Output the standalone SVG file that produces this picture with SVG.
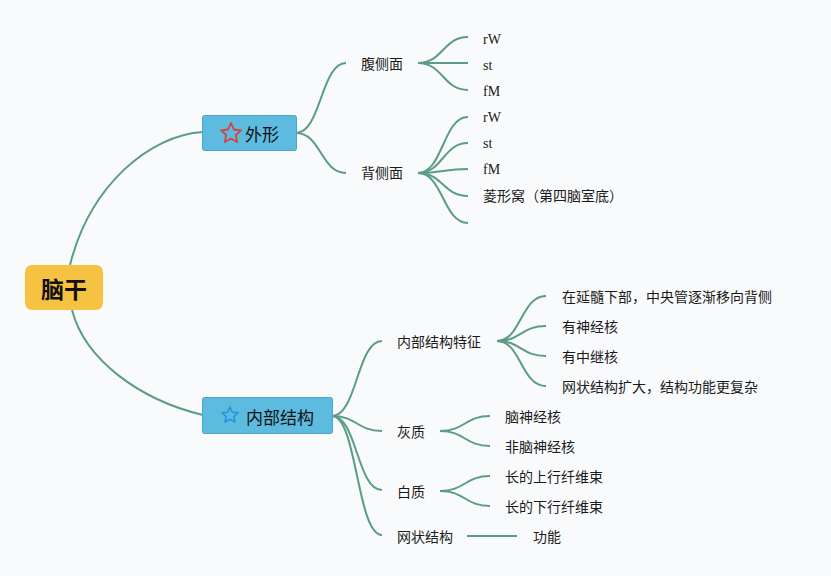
<svg xmlns="http://www.w3.org/2000/svg" width="831" height="576" viewBox="0 0 831 576">
<style>
.bg{fill:#f9fafb}
.c{fill:none;stroke:#5a9c85;stroke-width:2}
.t{font-family:"Liberation Serif","Noto Sans CJK SC",serif;font-size:14px;fill:#1a1a1a;dominant-baseline:central}
.br{fill:#5dbbdf;stroke:#4aa5c6;stroke-width:1}
.bt{font-family:"Noto Sans CJK SC",sans-serif;font-size:17px;fill:#111;dominant-baseline:central}
</style>
<rect class="bg" x="0" y="0" width="831" height="576"/>
<g id="connectors">
<path class="c" d="M70,265 C90,185 150,135 203,132"/>
<path class="c" d="M72,310 C85,360 140,400 203,415"/>
<path class="c" d="M296,133 C321,133 321,63 346,63"/>
<path class="c" d="M296,133 C321,133 321,173 346,173"/>
<path class="c" d="M418,63 C443,63 443,37 468,37"/>
<path class="c" d="M418,63 L468,63"/>
<path class="c" d="M418,63 C443,63 443,90 468,90"/>
<path class="c" d="M418,173 C443,173 443,117 468,117"/>
<path class="c" d="M418,173 C443,173 443,143 468,143"/>
<path class="c" d="M418,173 C443,173 443,169 468,169"/>
<path class="c" d="M418,173 C443,173 443,196 468,196"/>
<path class="c" d="M418,173 C443,173 443,223 468,223"/>
<path class="c" d="M332,416 C357,416 357,341 382,341"/>
<path class="c" d="M332,416 C357,416 357,431 382,431"/>
<path class="c" d="M332,416 C357,416 357,490 382,490"/>
<path class="c" d="M332,416 C357,416 357,535 382,535"/>
<path class="c" d="M497,341 C521,341 521,296 546,296"/>
<path class="c" d="M497,341 C521,341 521,326 546,326"/>
<path class="c" d="M497,341 C521,341 521,356 546,356"/>
<path class="c" d="M497,341 C521,341 521,386 546,386"/>
<path class="c" d="M440,431 C465,431 465,416 490,416"/>
<path class="c" d="M440,431 C465,431 465,446 490,446"/>
<path class="c" d="M440,491 C465,491 465,476 490,476"/>
<path class="c" d="M440,491 C465,491 465,506 490,506"/>
<path class="c" d="M467,536 L517,536"/>
</g>
<g id="root">
<rect x="25" y="265" width="78" height="45" rx="7" fill="#f5c242"/>
<text x="64" y="288" text-anchor="middle" font-family="'Noto Sans CJK SC',sans-serif" font-size="23" font-weight="bold" fill="#111" dominant-baseline="central">脑干</text>
</g>
<g id="waixing">
<rect class="br" x="202.5" y="115.5" width="94" height="35" rx="2"/>
<path d="M231,123 L233.9,129.5 L241,130.3 L235.8,135 L237.2,142 L231,138.5 L224.8,142 L226.2,135 L221,130.3 L228.1,129.5 Z" fill="none" stroke="#d5443c" stroke-width="1.8" stroke-linejoin="round"/>
<text class="bt" x="245" y="133">外形</text>
</g>
<g id="neibu">
<rect class="br" x="202.5" y="397.5" width="130" height="36" rx="2"/>
<path d="M230,407 L232.3,412.3 L238,412.8 L233.7,416.6 L235,422.2 L230,419.3 L225,422.2 L226.3,416.6 L222,412.8 L227.7,412.3 Z" fill="none" stroke="#1e96dc" stroke-width="1.5" stroke-linejoin="round"/>
<text class="bt" x="246" y="416">内部结构</text>
</g>
<g id="fuce"><text class="t" x="361" y="64">腹侧面</text></g>
<g id="beice"><text class="t" x="361" y="173">背侧面</text></g>
<g id="f1"><text class="t" x="483" y="39">rW</text></g>
<g id="f2"><text class="t" x="483" y="65">st</text></g>
<g id="f3"><text class="t" x="483" y="91">fM</text></g>
<g id="b1"><text class="t" x="483" y="117">rW</text></g>
<g id="b2"><text class="t" x="483" y="143">st</text></g>
<g id="b3"><text class="t" x="483" y="169">fM</text></g>
<g id="b4"><text class="t" x="483" y="196">菱形窝（第四脑室底）</text></g>
<g id="tezheng"><text class="t" x="397" y="342">内部结构特征</text></g>
<g id="t1"><text class="t" x="562" y="297">在延髓下部，中央管逐渐移向背侧</text></g>
<g id="t2"><text class="t" x="562" y="327">有神经核</text></g>
<g id="t3"><text class="t" x="562" y="357">有中继核</text></g>
<g id="t4"><text class="t" x="562" y="387">网状结构扩大，结构功能更复杂</text></g>
<g id="huizhi"><text class="t" x="397" y="432">灰质</text></g>
<g id="h1"><text class="t" x="505" y="417">脑神经核</text></g>
<g id="h2"><text class="t" x="505" y="447">非脑神经核</text></g>
<g id="baizhi"><text class="t" x="397" y="492">白质</text></g>
<g id="w1"><text class="t" x="505" y="477">长的上行纤维束</text></g>
<g id="w2"><text class="t" x="505" y="507">长的下行纤维束</text></g>
<g id="wangzhuang"><text class="t" x="397" y="537">网状结构</text></g>
<g id="gongneng"><text class="t" x="533" y="537">功能</text></g>
</svg>
